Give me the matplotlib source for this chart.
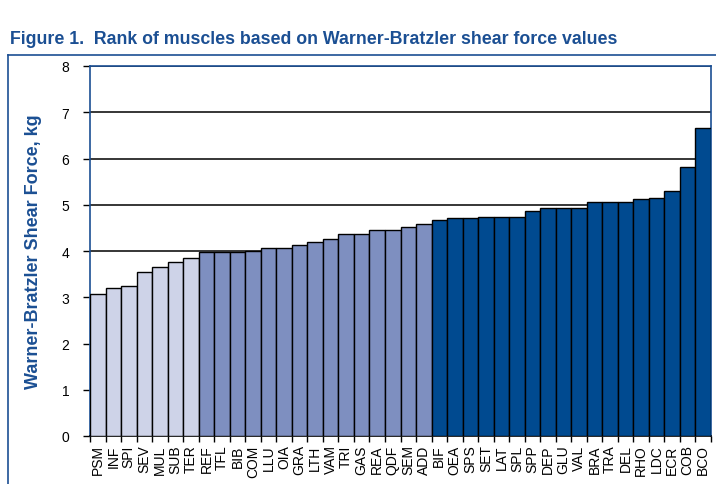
import matplotlib
matplotlib.use("Agg")
import matplotlib.pyplot as plt
from matplotlib.lines import Line2D

muscles = ["PSM", "INF", "SPI", "SEV", "MUL", "SUB", "TER", "REF", "TFL", "BIB",
           "COM", "LLU", "OIA", "GRA", "LTH", "VAM", "TRI", "GAS", "REA", "QDF",
           "SEM", "ADD", "BIF", "OEA", "SPS", "SET", "LAT", "SPL", "SPP", "DEP",
           "GLU", "VAL", "BRA", "TRA", "DEL", "RHO", "LDC", "ECR", "COB", "BCO"]
shear_force = [3.06, 3.19, 3.24, 3.54, 3.65, 3.76, 3.84, 3.97, 3.97, 3.97,
               3.99, 4.06, 4.06, 4.14, 4.19, 4.27, 4.37, 4.37, 4.46, 4.46,
               4.51, 4.58, 4.66, 4.71, 4.71, 4.73, 4.73, 4.73, 4.86, 4.92,
               4.92, 4.92, 5.05, 5.05, 5.07, 5.12, 5.14, 5.30, 5.81, 6.67]
group = ["low"] * 7 + ["mid"] * 15 + ["high"] * 18
group_colors = {"low": "#CED3E8", "mid": "#7E8FC0", "high": "#004A90"}
y_ticks = [0, 1, 2, 3, 4, 5, 6, 7, 8]

blue = "#1B4F93"
plt.rcParams['font.family'] = ['Liberation Sans', 'DejaVu Sans']

fig = plt.figure(figsize=(7.16, 4.85), dpi=100)
ax = fig.add_axes([90/716, 48/485, 621/716, 370/485])

x = list(range(len(muscles)))
ax.bar(x, shear_force, width=1.0, color=[group_colors[g] for g in group],
       edgecolor="black", linewidth=1.0, zorder=3)
ax.set_xlim(-0.5, len(muscles) - 0.5)
ax.set_ylim(0, 8)
ax.set_yticks(y_ticks)
ax.set_yticklabels([str(t) for t in y_ticks], fontsize=10)
for t in y_ticks[1:]:
    ax.axhline(t, color="black", linewidth=1.1, zorder=1)

ax.set_xticks([i + 0.5 for i in range(-1, len(muscles))], minor=False)
ax.set_xticklabels([])
ax.set_xticks(x, minor=True)
ax.set_xticklabels(muscles, minor=True, rotation=90, fontsize=10)
ax.tick_params(axis="x", which="major", length=4, width=1, color="black", direction="out")
ax.tick_params(axis="x", which="minor", length=0, pad=6)
ax.tick_params(axis="y", length=5, width=1, color="black", pad=10)

for side in ["left", "top", "right"]:
    ax.spines[side].set_color(blue)
    ax.spines[side].set_linewidth(1.2)
ax.spines["bottom"].set_color("black")
ax.spines["bottom"].set_linewidth(1.2)

ax.set_ylabel("Warner-Bratzler Shear Force, kg", fontsize=13, fontweight="bold",
              color=blue, labelpad=14)

fig.text(10/716, 1 - 40/485, "Figure 1.  Rank of muscles based on Warner-Bratzler shear force values",
         fontsize=12.8, fontweight="bold", color=blue, va="center", ha="left")

fig.add_artist(Line2D([8/716, 1.0], [1 - 56/485, 1 - 56/485], color=blue, linewidth=1.2,
                      transform=fig.transFigure))
fig.add_artist(Line2D([8/716, 8/716], [0, 1 - 56/485], color=blue, linewidth=1.2,
                      transform=fig.transFigure))

fig.savefig("out.png", dpi=100)
